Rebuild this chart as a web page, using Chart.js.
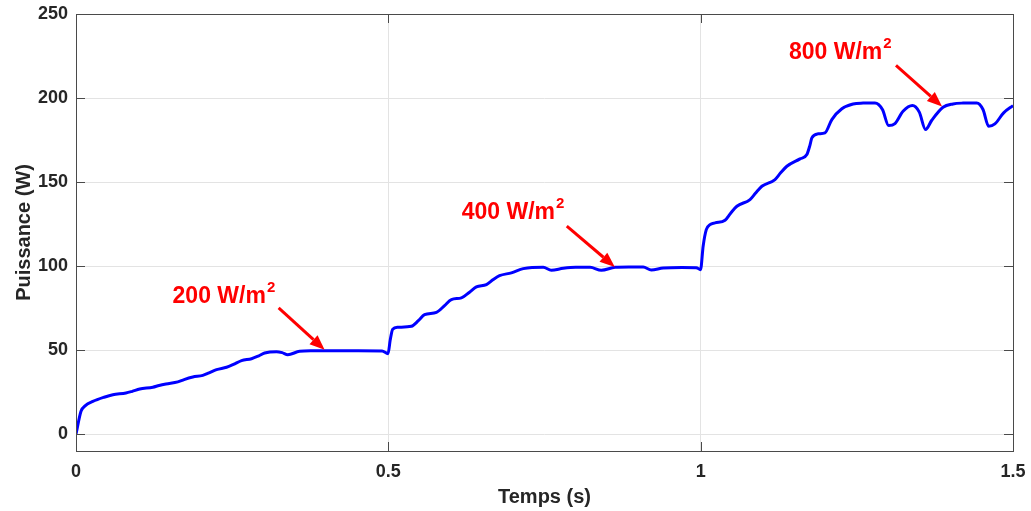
<!DOCTYPE html>
<html>
<head>
<meta charset="utf-8">
<script src="https://cdn.jsdelivr.net/npm/chart.js@4"></script>
<style>
  html, body { margin: 0; padding: 0; background: #fff; }
  #wrap { width: 1031px; height: 511px; }
</style>
</head>
<body>
<div id="wrap"><canvas id="puissance"></canvas></div>
<script>
// values
const temps = [0, 0.008, 0.015, 0.027, 0.045, 0.059, 0.080, 0.090, 0.102, 0.123, 0.133, 0.144, 0.163, 0.173, 0.187, 0.203, 0.213, 0.225, 0.241, 0.252, 0.265, 0.281, 0.292, 0.302, 0.321, 0.330, 0.339, 0.358, 0.380, 0.401, 0.450, 0.490, 0.4995,
  0.503, 0.507, 0.515, 0.537, 0.548, 0.558, 0.577, 0.590, 0.601, 0.617, 0.630, 0.641, 0.657, 0.668, 0.678, 0.697, 0.716, 0.730, 0.748, 0.761, 0.780, 0.800, 0.823, 0.841, 0.863, 0.885, 0.908, 0.921, 0.940, 0.970, 0.993, 0.9998,
  1.004, 1.009, 1.015, 1.023, 1.039, 1.048, 1.058, 1.079, 1.088, 1.098, 1.119, 1.128, 1.138, 1.159, 1.170, 1.175, 1.178, 1.188, 1.199, 1.210, 1.226, 1.244, 1.260, 1.279, 1.291, 1.301, 1.311, 1.324, 1.339, 1.350, 1.360, 1.370, 1.388, 1.404, 1.420, 1.442, 1.452, 1.461, 1.471, 1.485, 1.500];
const puissance = [0, 13.6, 17, 19.5, 22, 23.5, 24.5, 25.5, 26.9, 27.9, 29, 29.9, 31.1, 32.5, 34, 35, 36.5, 38.4, 39.8, 41.5, 43.8, 44.9, 46.5, 48.3, 49.1, 48.5, 47.3, 49.3, 49.6, 49.7, 49.6, 49.5, 47.9,
  56, 62.5, 63.6, 64.2, 67.5, 71.1, 72.5, 76.5, 80.1, 81.1, 84.5, 87.6, 89, 92, 94.3, 96, 98.5, 99.2, 99.3, 97.5, 98.7, 99.3, 99.3, 97.5, 99.3, 99.5, 99.5, 97.7, 98.9, 99.2, 99.1, 97.9,
  112, 121.7, 124.7, 125.7, 127.3, 131.5, 135.6, 139.6, 143.5, 147.5, 151.5, 155.5, 159.4, 163.8, 166.4, 172, 176.3, 178.7, 179.3, 187.2, 193.6, 196.5, 197, 197.1, 193.2, 183.6, 184.8, 192.1, 195.5, 191.6, 181.3, 186.8, 194.5, 196.5, 197, 197.1, 193.2, 183.2, 184.6, 191.2, 195.5];

const xTicks = [0, 0.5, 1, 1.5];
const yTicks = [0, 50, 100, 150, 200, 250];

// annotations: label, text position (t, P), arrow tail and tip (t, P)
const annoLabels = ['200 W/m', '400 W/m', '800 W/m'];
const annoText = [[0.1546, 78.1], [0.6175, 128], [1.1413, 223]];
const annoTail = [[0.3244, 75.1], [0.7857, 123.8], [1.3127, 219.4]];
const annoTip = [[0.398, 50.2], [0.8626, 99.5], [1.3864, 195]];

const txtColor = '#262626';
const fontFam = '"Liberation Sans", Arial, sans-serif';

const points = temps.map((t, i) => ({x: t, y: puissance[i]}));

// box, inward ticks, annotations
const matlabAxes = {
  id: 'matlabAxes',
  afterDraw(chart) {
    const c = chart.ctx;
    const a = chart.chartArea;
    const xs = chart.scales.x, ys = chart.scales.y;
    const len = 9;
    c.save();
    c.strokeStyle = '#4a4a4a';
    c.lineWidth = 1;
    c.beginPath();
    xTicks.forEach(v => {
      const px = Math.round(xs.getPixelForValue(v)) + 0.5;
      c.moveTo(px, a.bottom); c.lineTo(px, a.bottom - len);
      c.moveTo(px, a.top); c.lineTo(px, a.top + len);
    });
    yTicks.forEach(v => {
      const py = Math.round(ys.getPixelForValue(v)) + 0.5;
      c.moveTo(a.left, py); c.lineTo(a.left + len, py);
      c.moveTo(a.right, py); c.lineTo(a.right - len, py);
    });
    c.stroke();
    c.strokeRect(Math.round(a.left) + 0.5, Math.round(a.top) + 0.5, Math.round(a.right - a.left), Math.round(a.bottom - a.top));

    // red labels + arrows
    c.fillStyle = '#ff0000';
    c.strokeStyle = '#ff0000';
    c.textBaseline = 'alphabetic';
    c.textAlign = 'left';
    annoLabels.forEach((lab, i) => {
      const tx = xs.getPixelForValue(annoText[i][0]);
      const ty = ys.getPixelForValue(annoText[i][1]);
      c.font = 'bold 23px ' + fontFam;
      c.fillText(lab, tx, ty);
      const w = c.measureText(lab).width;
      c.font = 'bold 15px ' + fontFam;
      c.fillText('2', tx + w + 1, ty - 11);

      const x0 = xs.getPixelForValue(annoTail[i][0]), y0 = ys.getPixelForValue(annoTail[i][1]);
      const x1 = xs.getPixelForValue(annoTip[i][0]), y1 = ys.getPixelForValue(annoTip[i][1]);
      const ang = Math.atan2(y1 - y0, x1 - x0);
      const hl = 15, hw = 6;
      const bx = x1 - hl * Math.cos(ang), by = y1 - hl * Math.sin(ang);
      c.lineWidth = 3;
      c.beginPath();
      c.moveTo(x0, y0); c.lineTo(bx, by);
      c.stroke();
      c.beginPath();
      c.moveTo(x1, y1);
      c.lineTo(bx + hw * Math.sin(ang), by - hw * Math.cos(ang));
      c.lineTo(bx - hw * Math.sin(ang), by + hw * Math.cos(ang));
      c.closePath();
      c.fill();
    });
    c.restore();
  }
};

new Chart(document.getElementById('puissance'), {
  type: 'line',
  data: {
    datasets: [{
      data: points,
      borderColor: '#0000ff',
      borderWidth: 3,
      pointRadius: 0,
      fill: false,
      cubicInterpolationMode: 'monotone'
    }]
  },
  options: {
    responsive: true,
    maintainAspectRatio: false,
    animation: false,
    layout: { padding: { top: 14, right: 18, left: 0, bottom: 0 } },
    plugins: { legend: { display: false }, tooltip: { enabled: false } },
    scales: {
      x: {
        type: 'linear',
        min: 0, max: 1.5,
        afterBuildTicks: s => { s.ticks = xTicks.map(v => ({value: v})); },
        afterFit: s => { s.height = 60; s.paddingLeft = 0; s.paddingRight = 0; },
        grid: { color: '#e3e3e3', drawTicks: false },
        border: { display: false },
        ticks: {
          padding: 10,
          color: txtColor,
          font: { family: fontFam, size: 18, weight: 'bold' },
          callback: v => String(v)
        },
        title: {
          display: true,
          text: 'Temps (s)',
          color: txtColor,
          font: { family: fontFam, size: 20, weight: 'bold' },
          padding: { top: 0, bottom: 2 }
        }
      },
      y: {
        min: -10, max: 250,
        afterBuildTicks: s => { s.ticks = yTicks.map(v => ({value: v})); },
        afterFit: s => { s.width = 76; s.paddingTop = 0; s.paddingBottom = 0; },
        grid: { color: '#e3e3e3', drawTicks: false },
        border: { display: false },
        ticks: {
          padding: 8,
          color: txtColor,
          font: { family: fontFam, size: 18, weight: 'bold' }
        },
        title: {
          display: true,
          text: 'Puissance (W)',
          color: txtColor,
          font: { family: fontFam, size: 20, weight: 'bold' },
          padding: { top: 12, bottom: 0 }
        }
      }
    }
  },
  plugins: [matlabAxes]
});
</script>
</body>
</html>
